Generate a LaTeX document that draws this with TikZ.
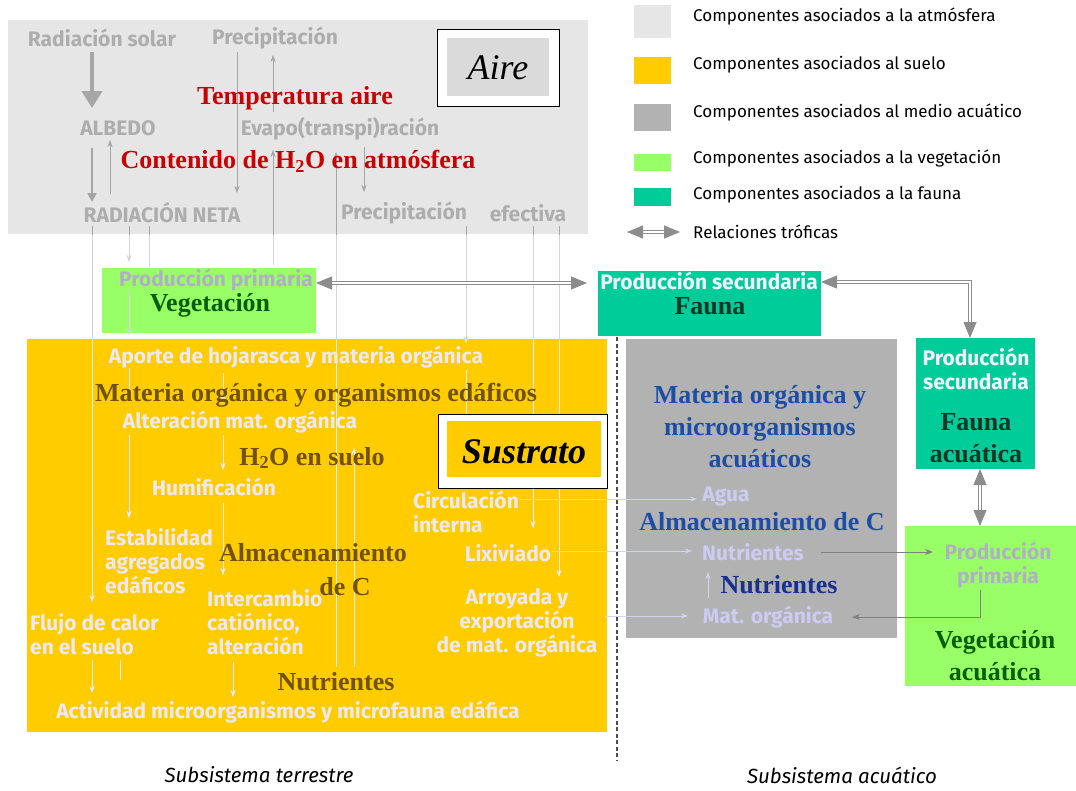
\documentclass[tikz,border=0pt]{standalone}
\usepackage{fontspec}
\setmainfont{Liberation Serif}
\newfontfamily\comic{Fira Sans}
\usetikzlibrary{arrows.meta}
\definecolor{atmbg}{HTML}{E6E6E6}
\definecolor{soil}{HTML}{FFCC00}
\definecolor{water}{HTML}{B2B2B2}
\definecolor{vegc}{HTML}{99FF66}
\definecolor{faunac}{HTML}{00CC99}
\definecolor{atmtxt}{HTML}{ADADAD}
\definecolor{redt}{HTML}{C80000}
\definecolor{soiltxt}{HTML}{ECE8F4}
\definecolor{brownt}{HTML}{705200}
\definecolor{bluet}{HTML}{1C4EA6}
\definecolor{blued}{HTML}{183090}
\definecolor{lavt}{HTML}{CCCCF2}
\definecolor{greent}{HTML}{085E08}
\definecolor{faunat}{HTML}{123626}
\definecolor{ppt}{HTML}{B0B0C4}
\definecolor{pst}{HTML}{F2F2FF}
\definecolor{trog}{HTML}{8C8C8C}
\definecolor{atmline}{HTML}{A6A6A6}
\definecolor{wline}{HTML}{D4D4D8}
\definecolor{yline}{HTML}{EEEAF6}
\definecolor{hline}{HTML}{D2D2F2}
\definecolor{darkarr}{HTML}{808080}
\newcommand\myThinPaths[1]{%
\begin{scope}[line width=0.9pt, draw=#1, #1, -{Stealth[length=7pt,width=5pt]}]
 \draw (92,226) -- (92,602);
 \draw (92,660) -- (92,693);
 \draw[-] (120,660) -- (120,680);
 \draw (129,226) -- (129,262);
 \draw (129,290) -- (129,335);
 \draw (129,368) -- (129,398);
 \draw (129,435) -- (129,518);
 \draw[-] (149,226) -- (149,267);
 \draw (223,373) -- (223,403);
 \draw (223,435) -- (223,470);
 \draw (223,503) -- (223,575);
 \draw (233,662) -- (233,697);
 \draw (237,52) -- (237,193);
 \draw (273,112) -- (273,55);
 \draw (273,265) -- (273,150);
 \draw (336,667) -- (336,152);
 \draw (354,667) -- (354,448);
 \draw (364,147) -- (364,192);
 \draw (466,226) -- (466,343);
 \draw[-] (466,370) -- (466,414);
 \draw (533,226) -- (533,528);
 \draw (559,226) -- (559,577);
 \draw (110,194) -- (110,140);
\end{scope}}
\begin{document}
\begin{tikzpicture}[x=1pt,y=-1pt,
  regionbox/.style={inner sep=0pt, outer sep=0pt, draw=none},
  lab/.style={font=\comic\bfseries\fontsize{21}{24}\selectfont, inner sep=0pt},
  serifh/.style={font=\bfseries\fontsize{26}{32}\selectfont, inner sep=0pt},
  leg/.style={font=\comic\fontsize{17}{20}\selectfont, anchor=west, inner sep=0pt},
  sub/.style={font=\comic\itshape\fontsize{20.5}{24}\selectfont, inner sep=0pt},
  trophic/.style={draw=trog, line width=0.9pt, double=white, double distance=2pt,
     {Triangle[length=16pt,width=13pt]}-{Triangle[length=16pt,width=13pt]}},
  lavarr/.style={line width=0.9pt, draw=hline, fill=hline, -{Stealth[length=7pt,width=5pt]}},
  greyarr/.style={line width=1pt, draw=darkarr, -{Stealth[length=8pt,width=6pt]}}
]
\useasboundingbox (0,0) rectangle (1076,790);
\fill[white] (0,0) rectangle (1076,790);

% region boxes
\node[regionbox, fill=atmbg, minimum width=580pt, minimum height=214pt] (atm) at (298,127) {};
\node[regionbox, fill=soil, minimum width=580pt, minimum height=393pt] (soilbox) at (317,535.5) {};
\node[regionbox, fill=water, minimum width=271pt, minimum height=299pt] (waterbox) at (761.5,488.5) {};
\node[regionbox, fill=vegc, minimum width=214pt, minimum height=65pt] (veg) at (209,300.5) {};
\node[regionbox, fill=faunac, minimum width=223pt, minimum height=65pt] (fauna) at (709.5,303.5) {};
\node[regionbox, fill=faunac, minimum width=119pt, minimum height=131pt] (faunaq) at (975.5,403.5) {};
\node[regionbox, fill=vegc, minimum width=171pt, minimum height=160pt] (vegq) at (990.5,606) {};

% thin flow lines
\myThinPaths{wline}
\begin{scope}\clip (8,20) rectangle (588,234); \myThinPaths{atmline}\end{scope}
\begin{scope}\clip (27,339) rectangle (607,732); \myThinPaths{yline}\end{scope}

% thick atmosphere arrows
\draw[atmline, line width=4.5pt, -{Triangle[length=17pt,width=20pt]}] (92,52) -- (92,108);
\draw[atmline, line width=2.4pt, -{Triangle[length=9pt,width=9pt]}] (92,148) -- (92,202);

% soil -> water arrows
\draw[lavarr] (520,499) -- (697,499);
\draw[lavarr] (552,551) -- (692,551);
\draw[lavarr] (605,616) -- (688,616);
\draw[lavarr] (708,598) -- (708,572);

% dashed separator
\draw[black!70, line width=1.1pt, dash pattern=on 4pt off 2.5pt] (617,337) -- (617,760);

% Aire / Sustrato boxes
\node[regionbox, draw=black, line width=0.9pt, fill=white, minimum width=122pt, minimum height=77pt] (aireo) at (498,67.5) {};
\node[regionbox, fill=atmbg!95!black, minimum width=102pt, minimum height=58pt] (airei) at (498,67) {};
\node[font=\itshape\fontsize{36}{40}\selectfont, inner sep=0pt] (aire) at (498,68) {Aire};
\node[regionbox, draw=black, line width=0.9pt, fill=white, minimum width=169pt, minimum height=74pt] (sustro) at (522.5,451) {};
\node[regionbox, fill=soil, minimum width=154pt, minimum height=56pt] (sustri) at (524,449) {};
\node[font=\bfseries\itshape\fontsize{36}{40}\selectfont, inner sep=0pt] (sustrato) at (524,452) {Sustrato};

% atmosphere texts
\node[lab, atmtxt] (rsolar) at (102,38) {Radiación solar};
\node[lab, atmtxt] (prec1) at (275,38) {Precipitación};
\node[lab, atmtxt] (albedo) at (118,128) {ALBEDO};
\node[lab, atmtxt] (evapo) at (340,129) {Evapo(transpi)ración};
\node[lab, atmtxt] (rneta) at (162,213) {RADIACIÓN NETA};
\node[lab, atmtxt] (prec2) at (404,213) {Precipitación};
\node[lab, atmtxt] (efect) at (528,213) {efectiva};
\node[serifh, redt] (tair) at (295,98) {Temperatura aire};
\node[serifh, redt] (h2oatm) at (298,161) {Contenido de H\textsubscript{2}O en atmósfera};

% vegetation / fauna
\node[lab, ppt] (pp1) at (216,280) {Producción primaria};
\node[serifh, greent] (vegt) at (210,305) {Vegetación};
\node[lab, pst] (ps1) at (709,281) {Producción secundaria};
\node[serifh, faunat] (faunat1) at (710,306) {Fauna};
\node[lab, pst, align=center] (ps2) at (976,369) {Producción\\secundaria};
\node[serifh, faunat, align=center] (faunaqt) at (976,438) {Fauna\\acuática};
\node[lab, ppt, align=center] (ppq) at (998,565) {Producción\\primaria};
\node[serifh, greent, align=center] (vegqt) at (995,656) {Vegetación\\acuática};

% soil texts
\node[lab, soiltxt] (aporte) at (296,357) {Aporte de hojarasca y materia orgánica};
\node[serifh, brownt] (mos) at (316,395) {Materia orgánica y organismos edáficos};
\node[lab, soiltxt] (alter) at (240,422) {Alteración mat. orgánica};
\node[serifh, brownt] (h2os) at (312,458) {H\textsubscript{2}O en suelo};
\node[lab, soiltxt] (humif) at (214,487) {Humificación};
\node[lab, soiltxt, align=left, anchor=west] (circ) at (413,511.5) {Circulación\\interna};
\node[lab, soiltxt, align=left, anchor=west] (estab) at (105,561) {Estabilidad\\agregados\\edáficos};
\node[serifh, brownt] (almc1) at (313,553) {Almacenamiento};
\node[serifh, brownt] (almc2) at (345,587) {de C};
\node[lab, soiltxt] (lixi) at (508,553) {Lixiviado};
\node[lab, soiltxt, align=left, anchor=west] (interc) at (207,622) {Intercambio\\catiónico,\\alteración};
\node[lab, soiltxt, align=left, anchor=west] (flujo) at (30,634) {Flujo de calor\\en el suelo};
\node[lab, soiltxt, align=center] (arroy) at (517,623) {Arroyada y\\exportación\\de mat. orgánica};
\node[serifh, brownt] (nuts) at (336,682) {Nutrientes};
\node[lab, soiltxt] (activ) at (288,712) {Actividad microorganismos y microfauna edáfica};

% water texts
\node[serifh, bluet, align=center] (moaq) at (760,427) {Materia orgánica y\\microorganismos\\acuáticos};
\node[lab, lavt] (agua) at (726,497) {Agua};
\node[serifh, bluet] (almcw) at (762,522) {Almacenamiento de C};
\node[lab, lavt] (nutw) at (753,552) {Nutrientes};
\node[serifh, blued] (nutsw) at (779,585) {Nutrientes};
\node[lab, lavt] (matw) at (768,617) {Mat. orgánica};

% grey arrows in water subsystem
\draw[greyarr] ([xshift=17pt]nutw.east |- 0,552) -- (933,552);
\draw[greyarr] (980,590) |- (852,617);

% trophic relations
\coordinate (t1) at (587,283);
\coordinate (t2) at (970,282);
\draw[trophic] (veg.east |- t1) -- (t1);
\draw[trophic] (fauna.east |- t2) -| (faunaq.north -| t2);
\draw[trophic] ([xshift=4.5pt]faunaq.south) -- ([xshift=4.5pt]faunaq.south |- vegq.north);

% subsystem labels
\node[sub] (subt) at (259,775) {Subsistema terrestre};
\node[sub] (suba) at (842,775) {Subsistema acuático};

% legend
\fill[atmbg] (634,5) rectangle (671,38);
\fill[soil] (634,57) rectangle (671,84);
\fill[water] (634,104) rectangle (671,131);
\fill[vegc] (634,154) rectangle (671,171);
\fill[faunac] (634,188) rectangle (671,206);
\node[leg] (lg1) at (693,17) {Componentes asociados a la atmósfera};
\node[leg] (lg2) at (693,65) {Componentes asociados al suelo};
\node[leg] (lg3) at (693,112) {Componentes asociados al medio acuático};
\node[leg] (lg4) at (693,158) {Componentes asociados a la vegetación};
\node[leg] (lg5) at (693,195) {Componentes asociados a la fauna};
\node[leg] (lg6) at (693,232) {Relaciones tróficas};
\coordinate (la1) at (627,232);
\coordinate (la2) at (680,232);
\draw[trophic] (la1) -- (la2);
\end{tikzpicture}
\end{document}
